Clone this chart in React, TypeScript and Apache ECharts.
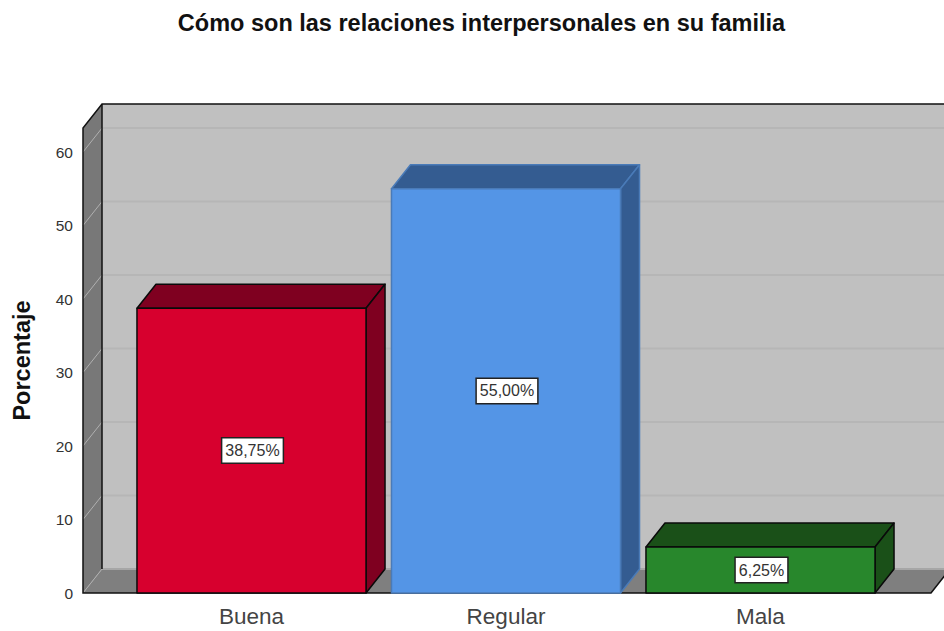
import React, { useEffect, useRef } from "react";
import * as echarts from "echarts";

const titleText = "Cómo son las relaciones interpersonales en su familia";
const yAxisName = "Porcentaje";
const categories = ["Buena", "Regular", "Mala"];
const percentages = [38.75, 55.0, 6.25];
const gridTicks = [0, 10, 20, 30, 40, 50, 60];
const yMax = 63.27;

const FONT = "'Liberation Sans', Arial, sans-serif";
const DEPTH_X = 19;
const DEPTH_Y = 24;
const barFaces = [
  { front: "#d7002e", dark: "#7f0020", stroke: "#0a0a0a" },
  { front: "#5495e6", dark: "#345c91", stroke: "#4a7bb8" },
  { front: "#28872c", dark: "#1a5018", stroke: "#0a0a0a" },
];

const formatPct = (v: number) => v.toFixed(2).replace(".", ",") + "%";

function renderScene(_params: any, api: any) {
  const y0 = api.coord([0, 0])[1];
  const yTop = api.coord([0, yMax])[1];
  const xL = 83;
  const xR = 931;
  const bx = xL + DEPTH_X;
  const bxR = xR + DEPTH_X;
  const children: any[] = [
    {
      type: "polygon",
      shape: { points: [[bx, yTop - DEPTH_Y], [bxR, yTop - DEPTH_Y], [bxR, y0 - DEPTH_Y], [bx, y0 - DEPTH_Y]] },
      style: { fill: "#c0c0c0" },
    },
    {
      type: "polygon",
      shape: { points: [[xL, y0], [bx, y0 - DEPTH_Y], [bxR, y0 - DEPTH_Y], [xR, y0]] },
      style: { fill: "#7f7f7f" },
    },
    {
      type: "polygon",
      shape: { points: [[xL, yTop], [bx, yTop - DEPTH_Y], [bx, y0 - DEPTH_Y], [xL, y0]] },
      style: { fill: "#787878" },
    },
  ];
  gridTicks.forEach((t) => {
    const y = api.coord([0, t])[1];
    children.push({
      type: "line",
      shape: { x1: bx, y1: y - DEPTH_Y, x2: bxR, y2: y - DEPTH_Y },
      style: { stroke: t === 0 ? "#a6a6a6" : "#b6b6b6", lineWidth: 2 },
    });
    children.push({
      type: "line",
      shape: { x1: xL, y1: y, x2: bx, y2: y - DEPTH_Y },
      style: { stroke: "#b0b0b0", lineWidth: 1 },
    });
  });
  children.push({
    type: "polyline",
    shape: { points: [[bxR, yTop - DEPTH_Y], [bx, yTop - DEPTH_Y], [xL, yTop], [xL, y0], [xR, y0], [bxR, y0 - DEPTH_Y]] },
    style: { stroke: "#111", lineWidth: 1.5, fill: "none" },
  });
  children.push({
    type: "line",
    shape: { x1: bx, y1: yTop - DEPTH_Y, x2: bx, y2: y0 - DEPTH_Y },
    style: { stroke: "#111", lineWidth: 1.5 },
  });
  return { type: "group", children };
}

function renderBar(params: any, api: any) {
  const idx = params.dataIndex;
  const val = api.value(1);
  const [cx, yv] = api.coord([api.value(0), val]);
  const y0 = api.coord([api.value(0), 0])[1];
  const w = api.size([1, 0])[0] * 0.9;
  const l = cx - w / 2;
  const r = cx + w / 2;
  const f = barFaces[idx];
  const edge = { stroke: f.stroke, lineWidth: 1.5, lineJoin: "round" };
  return {
    type: "group",
    children: [
      {
        type: "polygon",
        shape: { points: [[l, yv], [l + DEPTH_X, yv - DEPTH_Y], [r + DEPTH_X, yv - DEPTH_Y], [r, yv]] },
        style: { fill: f.dark, ...edge },
      },
      {
        type: "polygon",
        shape: { points: [[r, yv], [r + DEPTH_X, yv - DEPTH_Y], [r + DEPTH_X, y0 - DEPTH_Y], [r, y0]] },
        style: { fill: f.dark, ...edge },
      },
      {
        type: "polygon",
        shape: { points: [[l, yv], [r, yv], [r, y0], [l, y0]] },
        style: { fill: f.front, ...edge },
      },
      {
        type: "text",
        style: {
          text: formatPct(val),
          x: cx + 1,
          y: (yv + y0) / 2,
          align: "center",
          verticalAlign: "middle",
          fontFamily: FONT,
          fontSize: 16,
          fill: "#333",
          backgroundColor: "#fff",
          borderColor: "#222",
          borderWidth: 1.5,
          padding: [5, 3, 3, 3],
        },
      },
    ],
  };
}

export default function App() {
  const ref = useRef<HTMLDivElement>(null);
  useEffect(() => {
    document.body.style.margin = "0";
    const chart = echarts.init(ref.current!, undefined, { renderer: "svg" });
    chart.setOption({
      animation: false,
      backgroundColor: "#fff",
      title: {
        text: titleText,
        left: 476.5,
        top: 6,
        textAlign: "center",
        textStyle: { fontFamily: FONT, fontSize: 23.5, fontWeight: "bold", color: "#111" },
      },
      grid: { left: 124.25, top: 128, width: 763.5, bottom: 38 },
      xAxis: {
        type: "category",
        data: categories,
        axisLine: { show: false },
        axisTick: { show: false },
        axisLabel: { fontFamily: FONT, fontSize: 22.5, color: "#444", margin: 12, interval: 0 },
      },
      yAxis: {
        type: "value",
        min: 0,
        max: yMax,
        interval: 10,
        offset: 41.25,
        name: yAxisName,
        nameLocation: "middle",
        nameRotate: 90,
        nameGap: 49,
        nameTextStyle: { fontFamily: FONT, fontSize: 23.5, fontWeight: "bold", color: "#111" },
        axisLine: { show: false },
        axisTick: { show: false },
        splitLine: { show: false },
        axisLabel: {
          fontFamily: FONT,
          fontSize: 15.5,
          color: "#333",
          margin: 10,
          showMaxLabel: false,
          padding: [3, 0, 0, 0],
        },
      },
      series: [
        {
          type: "custom",
          name: "scene",
          renderItem: renderScene,
          data: [[0, 0]],
          encode: { x: 0, y: 1 },
          silent: true,
          z: 1,
        },
        {
          type: "custom",
          name: "Porcentaje",
          renderItem: renderBar,
          data: categories.map((_, i) => [i, percentages[i]]),
          encode: { x: 0, y: 1 },
          z: 2,
        },
      ],
    });
    return () => chart.dispose();
  }, []);
  return <div ref={ref} style={{ width: 944, height: 631 }} />;
}
